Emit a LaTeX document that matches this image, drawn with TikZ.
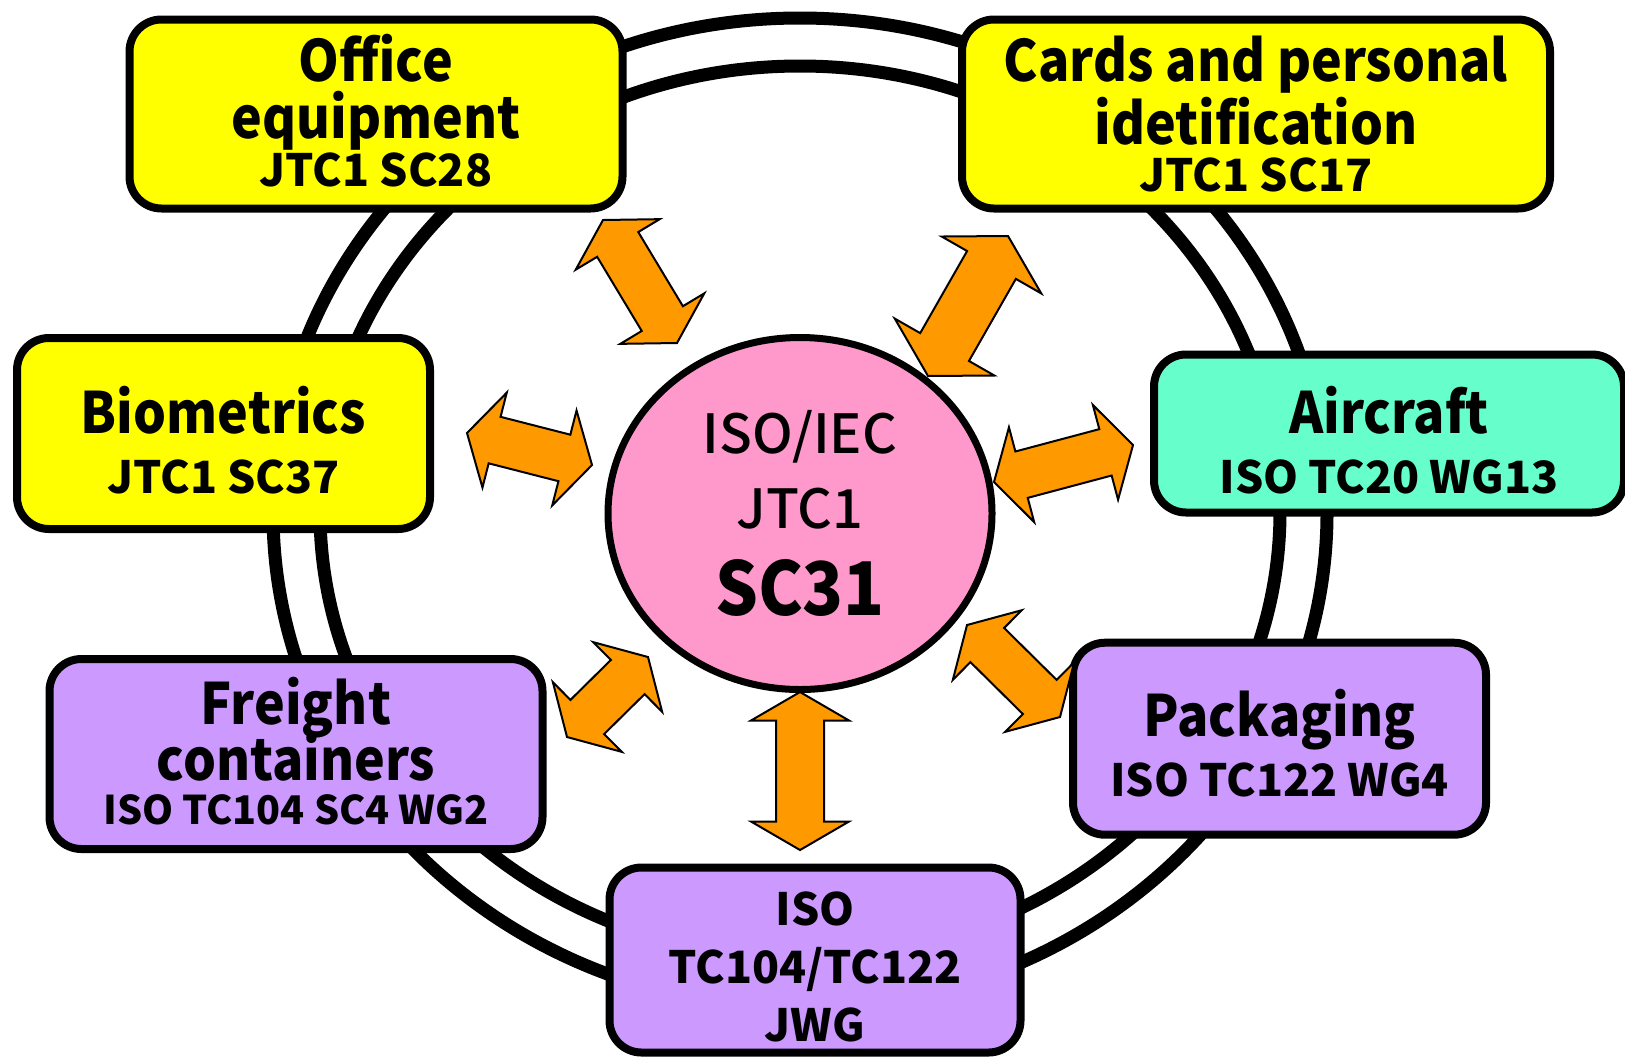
\documentclass[tikz,border=0pt]{standalone}
\usepackage{fontspec}
\setmainfont{Noto Sans CJK JP}
\newfontfamily\narrowFont{Noto Sans CJK JP}[FakeStretch=0.91]
\newfontfamily\midFont{Noto Sans CJK JP Medium}
\usepackage{tikz}
\usetikzlibrary{calc, shapes.geometric}
\definecolor{boxYellow}{HTML}{FFFF00}
\definecolor{boxTeal}{HTML}{66FFCC}
\definecolor{boxLilac}{HTML}{CC99FF}
\definecolor{scPink}{HTML}{FF99CC}
\definecolor{arrowOrange}{HTML}{FF9900}
\newcommand{\bigTxt}{\narrowFont\fontsize{5.7mm}{5.7mm}\selectfont\bfseries}
\newcommand{\smallTxt}{\normalfont\fontsize{4.45mm}{4.8mm}\selectfont\bfseries}
\newcommand{\tinyTxt}{\normalfont\fontsize{3.95mm}{4.8mm}\selectfont\bfseries}
\newcommand{\DblArrow}[3][1]{%
	\pgfmathsetlengthmacro{\headLen}{#1*2.85mm}%
	\pgfmathsetlengthmacro{\headHalf}{#1*4.9mm}%
	\pgfmathsetlengthmacro{\shaftHalf}{#1*2.4mm}%
	\coordinate (ha) at ($(#2)!\headLen!(#3)$);%
	\coordinate (hb) at ($(#3)!\headLen!(#2)$);%
	\draw[blockarrow] (#2) -- ($(ha)!\headHalf!90:(#3)$) -- ($(ha)!\shaftHalf!90:(#3)$)
		-- ($(hb)!\shaftHalf!-90:(#2)$) -- ($(hb)!\headHalf!-90:(#2)$) -- (#3)
		-- ($(hb)!\headHalf!90:(#2)$) -- ($(hb)!\shaftHalf!90:(#2)$)
		-- ($(ha)!\shaftHalf!-90:(#3)$) -- ($(ha)!\headHalf!-90:(#3)$) -- cycle;%
}

\begin{document}
\begin{tikzpicture}[x=0.1mm, y=-0.1mm,
	box/.style={draw, line width=0.8mm, rounded corners=3.2mm, align=center, inner sep=0pt, font=\bigTxt},
	blockarrow/.style={draw, fill=arrowOrange, line width=0.2mm, line join=miter}]
\useasboundingbox (0,0) rectangle (1625,1058);

% Draw ring
\draw[line width=1.3mm] (800,513) ellipse [x radius=52.7mm, y radius=49.5mm];
\draw[line width=1.3mm] (800,512) ellipse [x radius=48mm, y radius=44.6mm];

% Draw boxes
\node[box, fill=boxYellow, minimum width=49.3mm, minimum height=18.9mm] (office) at (376,114)
	{Office\\equipment\\[-0.9mm]{\smallTxt JTC1 SC28\rule[-0.8mm]{0pt}{0.8mm}}};
\node[box, fill=boxYellow, minimum width=58.8mm, minimum height=18.9mm] (cards) at (1256,114)
	{Cards and personal\\idetification\\[-1mm]{\smallTxt JTC1 SC17}};
\node[box, fill=boxYellow, minimum width=41.3mm, minimum height=19.1mm] (biometrics) at (223.5,433.5)
	{\rule{0pt}{6mm}Biometrics\\[0.3mm]{\smallTxt JTC1 SC37}};
\node[box, fill=boxTeal, minimum width=47mm, minimum height=15.8mm] (aircraft) at (1389,433.5)
	{\rule{0pt}{6.1mm}Aircraft\\[0.3mm]{\smallTxt ISO TC20 WG13}};
\node[box, fill=boxLilac, minimum width=49.3mm, minimum height=19mm] (freight) at (296,754)
	{Freight\\[-0.8mm]containers\\[-1.3mm]{\tinyTxt ISO TC104 SC4 WG2\rule[-0.6mm]{0pt}{0.6mm}}};
\node[box, fill=boxLilac, minimum width=41.3mm, minimum height=19.2mm] (packaging) at (1279.5,738.7)
	{\rule{0pt}{5.6mm}Packaging\\[0.3mm]{\smallTxt ISO TC122 WG4}};
\node[box, fill=boxLilac, minimum width=41.1mm, minimum height=18.5mm,
	font={\fontsize{4.45mm}{5.8mm}\selectfont\bfseries}] (jwg) at (815,960)
	{\rule{0pt}{4.8mm}ISO\\TC104/TC122\\JWG};

% Draw centre
\node[ellipse, draw, fill=scPink, line width=0.7mm, minimum width=38.4mm, minimum height=35.2mm,
	align=center, inner sep=0pt, font={\midFont\fontsize{5.4mm}{7.5mm}\selectfont}] (sc31) at (800,513.5)
	{ISO/IEC\\JTC1\\[1.2mm]{\narrowFont\fontsize{7.4mm}{7.4mm}\selectfont\bfseries SC31}};

% Draw arrows
\coordinate (offA) at (603,220);   \coordinate (offB) at (677,343);
\coordinate (cardA) at (1008,236); \coordinate (cardB) at (928,376);
\coordinate (bioA) at (467,433);   \coordinate (bioB) at (592,465);
\coordinate (airA) at (994,482);   \coordinate (airB) at (1133,445);
\coordinate (frtA) at (567,737);   \coordinate (frtB) at (648,657);
\coordinate (pkgA) at (967,625);   \coordinate (pkgB) at (1060,717);
\coordinate (jwgA) at (800,692);   \coordinate (jwgB) at (800,850);
\DblArrow{offA}{offB}
\DblArrow[1.17]{cardA}{cardB}
\DblArrow{bioA}{bioB}
\DblArrow{airA}{airB}
\DblArrow{frtA}{frtB}
\DblArrow{pkgA}{pkgB}
\DblArrow{jwgA}{jwgB}
\end{tikzpicture}
\end{document}
